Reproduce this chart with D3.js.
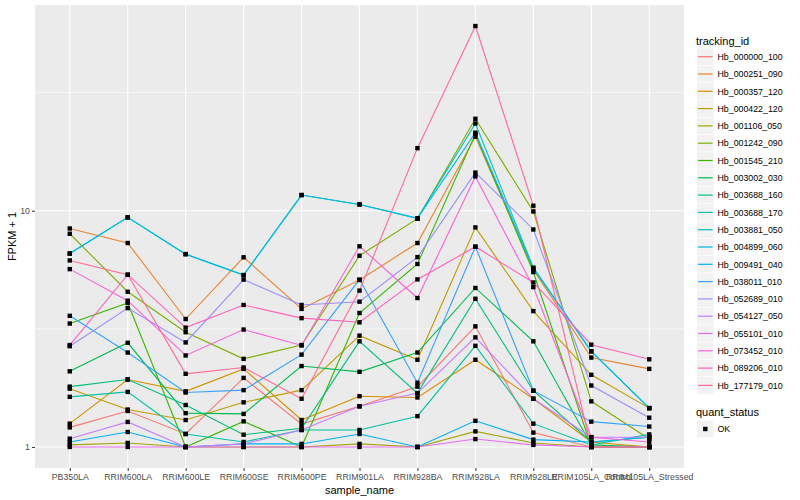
<!DOCTYPE html>
<html><head><meta charset="utf-8">
<script src="https://cdn.jsdelivr.net/npm/d3@7"></script>
<style>body{margin:0;background:#fff}svg{display:block}text{font-family:"Liberation Sans",Arial,Helvetica,sans-serif}</style>
</head><body><svg id="c" width="800" height="500"></svg>
<script>
const samples = ["PB350LA","RRIM600LA","RRIM600LE","RRIM600SE","RRIM600PE","RRIM901LA","RRIM928BA","RRIM928LA","RRIM928LE","RRIM105LA_Control","RRIM105LA_Stressed"];
const trackingIds = ["Hb_000000_100","Hb_000251_090","Hb_000357_120","Hb_000422_120","Hb_001106_050","Hb_001242_090","Hb_001545_210","Hb_003002_030","Hb_003688_160","Hb_003688_170","Hb_003881_050","Hb_004899_060","Hb_009491_040","Hb_038011_010","Hb_052689_010","Hb_054127_050","Hb_055101_010","Hb_073452_010","Hb_089206_010","Hb_177179_010"];
const colors = ["#F8766D","#EA8331","#D89000","#C09B00","#A3A500","#7CAE00","#39B600","#00BB4E","#00BF7D","#00C1A3","#00BFC4","#00BAE0","#00B0F6","#35A2FF","#9590FF","#C77CFF","#E76BF3","#FA62DB","#FF62BC","#FF6C91"];
// FPKM + 1 per tracking id, one value per sample
const s000000_100 = [1.21,1.42,1.135,1.96,1.25,1.486,1.80,3.24,1.15,1.0,1.0];
const s000251_090 = [8.41,7.30,3.48,6.35,3.84,5.09,7.30,20.6,5.63,2.39,2.14];
const s000357_120 = [1.255,1.93,1.72,2.14,1.30,1.64,1.62,2.34,1.60,1.05,1.0];
const s000422_120 = [1.765,1.44,1.30,1.545,1.74,2.96,2.34,8.5,3.76,2.02,1.46];
const s001106_050 = [1.02,1.04,1.0,1.0,1.0,1.03,1.0,1.164,1.04,1.0,1.0];
const s001242_090 = [7.99,4.54,3.06,2.36,2.70,6.45,9.25,24.5,9.93,1.56,1.08];
const s001545_210 = [3.33,4.07,1.0,1.283,1.0,3.69,5.95,21.1,5.5,1.0,1.0];
const s003002_030 = [2.09,2.76,1.39,1.38,2.20,2.08,2.51,4.71,2.80,1.02,1.0];
const s003688_160 = [1.80,1.93,1.505,1.127,1.20,2.80,1.69,4.24,1.73,1.05,1.10];
const s003688_170 = [1.63,1.71,1.135,1.05,1.18,1.18,1.35,2.68,1.255,1.02,1.13];
const s003881_050 = [6.59,9.37,6.55,5.34,11.65,10.63,9.28,23.4,5.74,2.54,1.46];
const s004899_060 = [6.59,9.37,6.55,5.34,11.65,10.63,9.28,21.4,5.70,2.54,1.46];
const s009491_040 = [1.05,1.157,1.0,1.03,1.03,1.135,1.0,1.29,1.074,1.05,1.10];
const s038011_010 = [3.59,2.51,1.70,1.74,2.46,5.11,1.87,7.04,1.73,1.28,1.22];
const s052689_010 = [2.67,3.87,2.77,5.11,3.99,4.12,6.36,14.5,8.33,1.82,1.33];
const s054127_050 = [1.084,1.276,1.0,1.03,1.18,1.486,1.69,2.91,1.60,1.10,1.10];
const s055101_010 = [1.0,1.0,1.0,1.0,1.0,1.0,1.0,1.08,1.02,1.0,1.0];
const s073452_010 = [5.66,4.16,2.44,3.14,2.69,7.07,4.27,13.97,4.75,1.10,1.05];
const s089206_010 = [2.70,5.36,3.20,3.99,3.51,3.37,5.12,7.04,4.97,2.71,2.35];
const s177179_010 = [6.16,5.36,2.04,2.17,1.60,4.59,18.4,60.5,10.5,1.0,1.0];
const seriesValues = [s000000_100,s000251_090,s000357_120,s000422_120,s001106_050,s001242_090,s001545_210,s003002_030,s003688_160,s003688_170,s003881_050,s004899_060,s009491_040,s038011_010,s052689_010,s054127_050,s055101_010,s073452_010,s089206_010,s177179_010];
const yTicks = [1,10];
const quantStatus = ["OK"];

const series = trackingIds.map((id,i)=>({id, color:colors[i], values:seriesValues[i].map((v,j)=>({s:samples[j], v}))}));

const svg = d3.select("#c");
const L=35,R=684,T=5,B=468;
const allV = seriesValues.flat();
const lmin = Math.log10(d3.min(allV)), lmax = Math.log10(d3.max(allV));
const ex = (lmax-lmin)*0.05;
const y = d3.scaleLog().domain([Math.pow(10,lmin-ex), Math.pow(10,lmax+ex)]).range([B,T]);
const x = d3.scalePoint().domain(samples).range([L,R]).padding(0.6);

svg.append("rect").attr("x",L).attr("y",T).attr("width",R-L).attr("height",B-T).attr("fill","#EBEBEB");
// minor y grid
const minor = [Math.sqrt(10), Math.pow(10,1.5)];
svg.append("g").selectAll("line").data(minor).join("line")
  .attr("x1",L).attr("x2",R).attr("y1",d=>y(d)).attr("y2",d=>y(d)).attr("stroke","#fff").attr("stroke-width",0.55);
svg.append("g").selectAll("line").data(yTicks).join("line")
  .attr("x1",L).attr("x2",R).attr("y1",d=>y(d)).attr("y2",d=>y(d)).attr("stroke","#fff").attr("stroke-width",1.1);
svg.append("g").selectAll("line").data(samples).join("line")
  .attr("x1",d=>x(d)).attr("x2",d=>x(d)).attr("y1",T).attr("y2",B).attr("stroke","#fff").attr("stroke-width",1.1);

// axes
const xa = svg.append("g").attr("transform",`translate(0,${B})`)
  .call(d3.axisBottom(x).tickSize(3).tickPadding(3));
const ya = svg.append("g").attr("transform",`translate(${L},0)`)
  .call(d3.axisLeft(y).tickValues(yTicks).tickFormat(d3.format("d")).tickSize(3).tickPadding(2));
[xa,ya].forEach(a=>{a.select(".domain").remove();
  a.selectAll(".tick line").attr("stroke","#333").attr("stroke-width",1);
  a.selectAll(".tick text").attr("fill","#4D4D4D").style("font-size","8.8px").style("font-family","'Liberation Sans',Arial,sans-serif");});
xa.selectAll(".tick text").attr("dy","0.71em");

// lines
const line = d3.line().x(d=>x(d.s)).y(d=>y(d.v));
svg.append("g").selectAll("path").data(series).join("path")
  .attr("d",d=>line(d.values)).attr("fill","none").attr("stroke",d=>d.color).attr("stroke-width",1.1);
// points
svg.append("g").selectAll("rect").data(series.flatMap(d=>d.values)).join("rect")
  .attr("x",d=>x(d.s)-2.2).attr("y",d=>y(d.v)-2.2).attr("width",4.4).attr("height",4.4).attr("fill","#000");

// axis titles
svg.append("text").attr("x",(L+R)/2).attr("y",494).attr("text-anchor","middle").style("font-size","11px").text("sample_name");
svg.append("text").attr("transform",`translate(16,${(T+B)/2}) rotate(-90)`).attr("text-anchor","middle").style("font-size","11px").text("FPKM + 1");

// legend
const lg = svg.append("g");
lg.append("text").attr("x",696).attr("y",44.5).style("font-size","11px").text("tracking_id");
const kh = 17.3, k0 = 56.7;
const items = lg.selectAll("g.k").data(series).join("g").attr("class","k").attr("transform",(d,i)=>`translate(697,${k0+i*kh})`);
items.append("rect").attr("x",0).attr("y",-8.3).attr("width",16.6).attr("height",16.6).attr("fill","#F2F2F2");
items.append("line").attr("x1",1).attr("x2",15.6).attr("y1",0).attr("y2",0).attr("stroke",d=>d.color).attr("stroke-width",1.2);
items.append("text").attr("x",20.5).attr("y",3.2).style("font-size","8.8px").attr("fill","#000").text(d=>d.id);
lg.append("text").attr("x",696).attr("y",416).style("font-size","11px").text("quant_status");
const q = lg.selectAll("g.q").data(quantStatus).join("g").attr("class","q").attr("transform",(d,i)=>`translate(697,${429+i*kh})`);
q.append("rect").attr("x",0).attr("y",-8.3).attr("width",16.6).attr("height",16.6).attr("fill","#F2F2F2");
q.append("rect").attr("x",6.1).attr("y",-2.2).attr("width",4.4).attr("height",4.4).attr("fill","#000");
q.append("text").attr("x",20.5).attr("y",3.2).style("font-size","8.8px").text(d=>d);
</script></body></html>
